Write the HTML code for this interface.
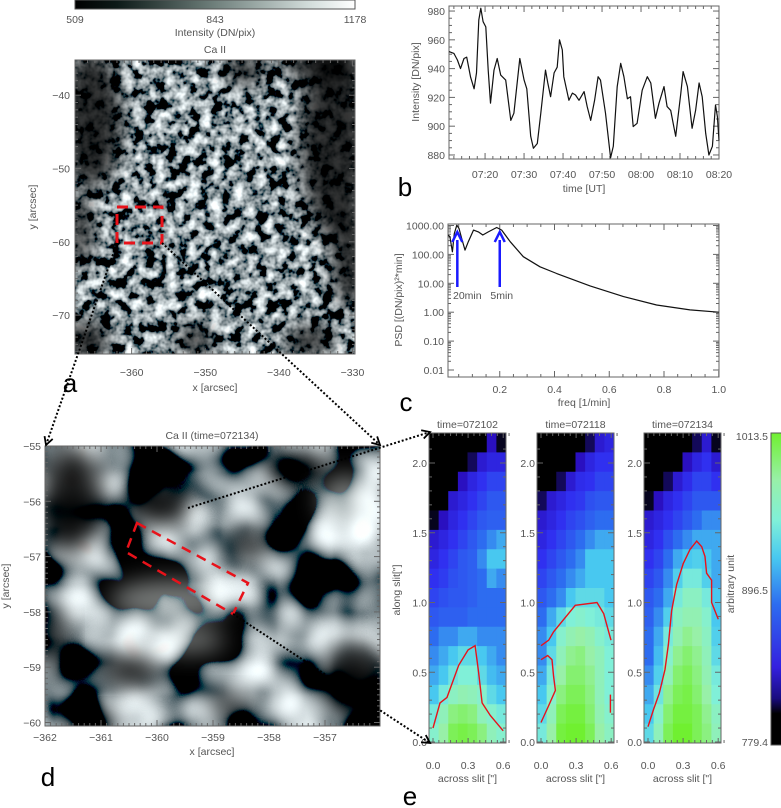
<!DOCTYPE html>
<html><head><meta charset="utf-8">
<style>
html,body{margin:0;padding:0;background:#fff;}
svg{display:block;font-family:"Liberation Sans","DejaVu Sans",sans-serif;}
.t{font-size:10.5px;fill:#555;}
.big{font-size:26px;fill:#000;}
</style></head>
<body>
<svg id="fig" width="781" height="808" viewBox="0 0 781 808" xmlns="http://www.w3.org/2000/svg">
<defs>
  <linearGradient id="grayBar" x1="0" x2="1" y1="0" y2="0">
    <stop offset="0" stop-color="#000"/>
    <stop offset="0.15" stop-color="#0d1a18"/>
    <stop offset="0.5" stop-color="#6f807c"/>
    <stop offset="0.85" stop-color="#d6e0de"/>
    <stop offset="1" stop-color="#fff"/>
  </linearGradient>
  <linearGradient id="ctBar" x1="0" x2="0" y1="1" y2="0">
    <stop offset="0" stop-color="#000"/>
    <stop offset="0.1" stop-color="#000"/>
    <stop offset="0.15" stop-color="#1a0c80"/>
    <stop offset="0.25" stop-color="#3420e0"/>
    <stop offset="0.45" stop-color="#2d6cf0"/>
    <stop offset="0.6" stop-color="#48c8f0"/>
    <stop offset="0.72" stop-color="#80f0d8"/>
    <stop offset="0.85" stop-color="#98f0a8"/>
    <stop offset="1" stop-color="#70f030"/>
  </linearGradient>
  <filter id="texA" x="0" y="0" width="100%" height="100%">
    <feTurbulence type="fractalNoise" baseFrequency="0.09" numOctaves="3" seed="4"/>
    <feColorMatrix type="matrix" values="2.6 0 0 0 -1.05  2.7 0 0 0 -1.05  2.7 0 0 0 -1.03  0 0 0 0 1"/>
  </filter>
  <filter id="texD" x="0" y="0" width="100%" height="100%">
    <feTurbulence type="fractalNoise" baseFrequency="0.018" numOctaves="2" seed="11"/>
    <feColorMatrix type="matrix" values="2.8 0 0 0 -1.2  2.9 0 0 0 -1.2  2.9 0 0 0 -1.18  0 0 0 0 1"/>
  </filter>
  <filter id="blur8" x="-100%" y="-100%" width="300%" height="300%"><feGaussianBlur stdDeviation="10"/></filter>
  <filter id="blur14" x="-100%" y="-100%" width="300%" height="300%"><feGaussianBlur stdDeviation="12"/></filter>
  <clipPath id="clipA"><rect x="75" y="60" width="280" height="294"/></clipPath>
  <clipPath id="clipD"><rect x="45" y="446" width="335" height="280"/></clipPath>
</defs>
</svg>
<script>
// ---------------- DATA ----------------
const tsTime = [10.75,12.0,12.9,13.7,14.6,15.3,16.3,17.2,17.8,18.4,18.9,19.5,20.2,20.8,21.4,22.3,23.1,24.0,25.3,26.6,27.4,28.9,30.0,30.7,31.7,32.4,33.4,34.3,35.5,36.1,36.8,37.7,38.5,39.1,39.8,40.2,41.5,42.4,43.2,44.1,45.4,46.2,47.1,48.1,49.0,49.6,50.9,52.2,52.9,53.9,54.8,55.6,56.5,57.3,58.0,59.0,60.3,61.6,62.5,63.7,64.6,65.9,66.7,67.6,68.4,68.9,70.2,70.8,71.9,73.1,74.0,74.9,75.7,76.6,77.4,78.3,79.1,79.6,80.0];
const tsVal = [951.8,950.6,946,940,947,948,934,926,937,973.8,982,972.6,969,939,916,939,947,935.5,932,904,909,947,932,926,893,884.6,888,909,939,930,920.5,937,941,960,953,934.4,918,923,921.7,918,924,913.6,904,918,934.4,932,909,878,886,927.5,943.6,934.4,919,920.5,899.7,902,925,934.4,930,905.5,916,927.5,913.6,911,899.7,893,922.8,937.9,927.5,898.5,911,930,920.5,895,880,886,914.7,906.6,890];
const tsTickLabels = ["07:20","07:30","07:40","07:50","08:00","08:10","08:20"];
const tsTickTimes = [20,30,40,50,60,70,80];
const tsYTicks = [880,900,920,940,960,980];
const psdFreq = [0.012,0.018,0.027,0.034,0.043,0.051,0.061,0.073,0.085,0.104,0.122,0.138,0.158,0.189,0.207,0.238,0.286,0.347,0.408,0.530,0.652,0.773,0.895,1.0];
const psdLog = [2.67,2.61,2.09,2.72,3.01,2.90,2.55,2.15,2.44,2.84,2.78,2.67,2.78,2.93,2.84,2.44,1.92,1.57,1.34,0.91,0.54,0.25,0.08,0.0];
const psdYLabels = ["1000.00","100.00","10.00","1.00","0.10","0.01"];
const psdYLogs = [3,2,1,0,-1,-2];
const psdXTicks = [0.2,0.4,0.6,0.8,1.0];
const arrowFreq = [0.045,0.2];
const arrowLabels = ["20min","5min"];
const mapE1 = [
[0,0,0,0,0,0,.15,.05],[0,0,0,0,.1,.2,.25,.25],[0,0,0,.15,.25,.3,.35,.35],[0,0,.2,.25,.3,.35,.4,.4],
[.05,.15,.25,.3,.35,.4,.42,.42],[.2,.25,.3,.35,.4,.45,.5,.55],[.25,.3,.35,.4,.42,.5,.6,.6],[.3,.33,.38,.4,.42,.45,.55,.5],
[.35,.38,.4,.4,.42,.45,.45,.45],[.4,.42,.42,.42,.45,.45,.45,.45],[.45,.5,.5,.55,.55,.5,.5,.5],[.5,.55,.6,.65,.65,.6,.55,.5],
[.55,.6,.68,.72,.72,.65,.58,.55],[.6,.7,.78,.82,.8,.75,.65,.6],[.7,.8,.9,.92,.9,.8,.75,.7],[.75,.85,.95,.97,.95,.9,.8,.75]];
const mapE2 = [
[0,0,0,0,0,.1,.2,.25],[0,0,0,0,.15,.25,.3,.3],[0,0,.1,.2,.28,.3,.35,.35],[.1,.2,.25,.3,.32,.38,.4,.4],
[.2,.25,.3,.35,.38,.42,.45,.45],[.25,.3,.35,.4,.45,.5,.55,.55],[.3,.35,.4,.45,.5,.6,.6,.6],[.35,.4,.45,.5,.55,.6,.6,.6],
[.4,.45,.5,.6,.65,.65,.65,.6],[.45,.55,.65,.72,.75,.72,.7,.65],[.5,.6,.75,.82,.85,.82,.75,.7],[.5,.65,.8,.88,.9,.85,.8,.72],
[.55,.7,.85,.92,.92,.88,.8,.72],[.6,.75,.9,.95,.95,.9,.8,.72],[.65,.8,.95,.98,.98,.92,.82,.75],[.7,.85,.98,1,1,.95,.85,.78]];
const mapE3 = [
[0,0,0,0,0,.1,.2,.05],[0,0,0,0,.15,.25,.3,.2],[0,0,.1,.2,.28,.35,.35,.3],[.05,.15,.25,.3,.35,.4,.4,.4],
[.2,.25,.3,.35,.4,.45,.5,.5],[.25,.3,.38,.45,.5,.55,.55,.55],[.3,.35,.45,.55,.6,.62,.6,.55],[.35,.4,.5,.62,.7,.7,.62,.55],
[.4,.45,.55,.7,.78,.78,.7,.6],[.42,.5,.62,.78,.82,.82,.75,.6],[.45,.55,.7,.82,.88,.85,.78,.62],[.45,.58,.75,.88,.92,.88,.8,.65],
[.5,.62,.8,.92,.95,.9,.82,.7],[.55,.68,.88,.95,.97,.92,.85,.72],[.6,.75,.92,.98,.98,.95,.88,.78],[.65,.8,.95,1,1,.95,.9,.8]];
const e1CX = [0,.06,.12,.22,.30,.36,.39,.42,.49,.60];
const e1CY = [.10,.28,.32,.55,.66,.69,.50,.28,.19,.08];
const e2aCX = [0,.066,.108,.293,.479,.536,.598];
const e2aCY = [.69,.73,.79,.98,1.0,.92,.73];
const e2bCX = [0,.057,.094,.108,.123,.06,0];
const e2bCY = [.59,.62,.59,.47,.37,.25,.14];
const e2cCX = [.593,.593];
const e2cCY = [.34,.21];
const e3CX = [0,.046,.097,.145,.174,.202,.245,.302,.359,.416,.459,.487,.501,.544,.544,.601];
const e3CY = [.11,.23,.35,.52,.70,.94,1.13,1.28,1.38,1.44,1.40,1.33,1.21,1.16,1.00,.88];
const eTitles = ["time=072102","time=072118","time=072134"];
const eYTicks = [0.0,0.5,1.0,1.5,2.0];
const eXTicks = [0.0,0.3,0.6];

// ---------------- HELPERS ----------------
const NS = "http://www.w3.org/2000/svg";
const svg = document.getElementById('fig');
function mk(tag, attrs, parent){
  const el = document.createElementNS(NS, tag);
  for (const k in attrs) el.setAttribute(k, attrs[k]);
  (parent||svg).appendChild(el);
  return el;
}
function txt(x,y,s,cls,anchor,parent,extra){
  const el = mk('text', Object.assign({x:x,y:y,'class':cls||'t','text-anchor':anchor||'middle'}, extra||{}), parent);
  el.textContent = s;
  return el;
}
function group(){ return mk('g',{}); }
function axisBox(x1,y1,x2,y2,parent){
  return mk('rect',{x:x1,y:y1,width:x2-x1,height:y2-y1,fill:'none',stroke:'#666','stroke-width':1},parent);
}
function tickX(g,x,y1,y2,len){
  mk('line',{x1:x,y1:y2,x2:x,y2:y2-len,stroke:'#666','stroke-width':1},g);
  mk('line',{x1:x,y1:y1,x2:x,y2:y1+len,stroke:'#666','stroke-width':1},g);
}
function tickY(g,y,x1,x2,len){
  mk('line',{x1:x1,y1:y,x2:x1+len,y2:y,stroke:'#666','stroke-width':1},g);
  mk('line',{x1:x2,y1:y,x2:x2-len,y2:y,stroke:'#666','stroke-width':1},g);
}
function cmap(v){
  const st=[[0,[0,0,0]],[0.08,[10,6,48]],[0.15,[42,16,192]],[0.3,[48,48,240]],[0.45,[45,108,240]],[0.6,[72,200,240]],[0.72,[128,240,216]],[0.85,[152,240,168]],[1,[112,240,48]]];
  v=Math.max(0,Math.min(1,v));
  for(let i=1;i<st.length;i++){ if(v<=st[i][0]){ const a=st[i-1],b=st[i],f=(v-a[0])/(b[0]-a[0]);
    return 'rgb('+[0,1,2].map(k=>Math.round(a[1][k]+f*(b[1][k]-a[1][k]))).join(',')+')'; } }
  return 'rgb(112,240,48)';
}

// ---------------- TOP COLORBAR ----------------
const cbTop = group();


mk('rect',{x:75,y:0,width:280,height:9,fill:'url(#grayBar)',stroke:'#555','stroke-width':1},cbTop);
const cbL = ["509","843","1178"], cbX=[75,215,355];
for(let i=0;i<3;i++){ txt(cbX[i],23,cbL[i],'t','middle',cbTop); }
const cbTitle = txt(215,36,"Intensity (DN/pix)",'t','middle',cbTop);



// ---------------- PANEL A ----------------
const pa = group();


const aImg = mk('g',{'clip-path':'url(#clipA)'},pa);
mk('rect',{x:75,y:60,width:280,height:294,filter:'url(#texA)'},aImg);
const darkA = [[92,120,30,70],[80,230,12,40],[335,140,35,100],[350,260,18,50],[320,65,40,15],[85,340,25,20],[245,70,20,15],[310,340,25,15],[195,340,18,15]];
for(const d of darkA){ mk('ellipse',{cx:d[0],cy:d[1],rx:d[2],ry:d[3],fill:'#000',opacity:0.8,filter:'url(#blur8)'},aImg); }
axisBox(75,60,355,354,pa);
const aTicks = mk('g',{},pa);
const aXv=[-360,-350,-340,-330], aYv=[-40,-50,-60,-70];
const AX = v=>75+(v+367.7)*7.36, AY = v=>60+(-35.2-v)*7.33;
for(let v=-367;v<=-330;v+=1){ tickX(aTicks,AX(v),60,354,(v%10===0)?6:3); }
for(let v=-36;v>=-75;v-=1){ tickY(aTicks,AY(v),75,355,(v%10===0)?6:3); }
for(const v of aXv) txt(AX(v),376,'\u2212'+Math.abs(v),'t','middle',pa);
for(const v of aYv) txt(70,AY(v)+4,'\u2212'+Math.abs(v),'t','end',pa);
const aT = txt(215,53,"Ca II",'t','middle',pa); aT.setAttribute('font-size','12');


txt(215,391,"x [arcsec]",'t','middle',pa);
txt(36,207,"y [arcsec]",'t','middle',pa,{transform:'rotate(-90 36 207)'});
mk('rect',{x:117,y:207,width:45,height:36,fill:'none',stroke:'#e8121a','stroke-width':3,'stroke-dasharray':'11 7'},pa);
const la = txt(70,392,"a",'big','middle');



// ---------------- PANEL B ----------------
const pb = group();


const BX0=449,BX1=719,BY0=6,BY1=159;
const BX = t=>BX0+(t-10.75)*(BX1-BX0)/69.25, BY = v=>BY1-(v-877.2)*1.4393;
axisBox(BX0,BY0,BX1,BY1,pb);
const bTicks = mk('g',{},pb);
for(let t=12;t<=80;t+=2){ tickX(bTicks,BX(t),BY0,BY1,(t%10===0)?6:3); }
for(let v=880;v<=980;v+=5){ tickY(bTicks,BY(v),BX0,BX1,(v%20===0)?6:3); }
for(let i=0;i<tsTickTimes.length;i++) txt(BX(tsTickTimes[i]),178,tsTickLabels[i],'t','middle',pb);
for(const v of tsYTicks) txt(BX0-4,BY(v)+4,String(v),'t','end',pb);
txt(584,192,"time [UT]",'t','middle',pb);
txt(419,82,"Intensity [DN/pix]",'t','middle',pb,{transform:'rotate(-90 419 82)'});
let dB='';
for(let i=0;i<tsTime.length;i++){ dB+=(i?'L':'M')+BX(tsTime[i]).toFixed(1)+' '+BY(tsVal[i]).toFixed(1); }
const lineB = mk('path',{d:dB,fill:'none',stroke:'#111','stroke-width':1.2,'stroke-linejoin':'round'},pb);


const lb = txt(405,196,"b",'big','middle');



// ---------------- PANEL C ----------------
const pc = group();


const CX0=448,CX1=719,CY0=224,CY1=377;
const CX = f=>445+f*273.75, CY = l=>370-(l+2)*28.9;
axisBox(CX0,CY0,CX1,CY1,pc);
const cTicks = mk('g',{},pc);
for(let f=0.05;f<=1.001;f+=0.05){ tickX(cTicks,CX(f),CY0,CY1,(Math.abs(f*5-Math.round(f*5))<0.01)?6:3); }
for(const l of psdYLogs){ tickY(cTicks,CY(l),CX0,CX1,6);
  for(let m=2;m<10;m++){ const lm=l+Math.log10(m); if(lm<3.05) tickY(cTicks,CY(lm),CX0,CX1,3);} }
for(const f of psdXTicks) txt(CX(f),393,f.toFixed(1),'t','middle',pc);
for(let i=0;i<psdYLabels.length;i++) txt(CX0-4,CY(psdYLogs[i])+4,psdYLabels[i],'t','end',pc);
txt(584,406,"freq [1/min]",'t','middle',pc);
txt(402,300,"PSD [(DN/pix)\u00b2*min]",'t','middle',pc,{transform:'rotate(-90 402 300)'});
let dC='';
for(let i=0;i<psdFreq.length;i++){ dC+=(i?'L':'M')+CX(psdFreq[i]).toFixed(1)+' '+Math.max(CY0,CY(psdLog[i])).toFixed(1); }
const lineC = mk('path',{d:dC,fill:'none',stroke:'#111','stroke-width':1.2,'stroke-linejoin':'round'},pc);


for(let i=0;i<arrowFreq.length;i++){
  const x=CX(arrowFreq[i]);
  const ar = mk('g',{},pc);
  
  
  mk('line',{x1:x,y1:287,x2:x,y2:240,stroke:'#1a1aff','stroke-width':2.5},ar);
  mk('path',{d:`M${x-5} ${242} L${x} ${232} L${x+5} ${242}`,fill:'none',stroke:'#1a1aff','stroke-width':2.5},ar);
  const lt = txt(x+(i?2:10),299,arrowLabels[i],'t','middle',ar); lt.setAttribute('fill','#1a1aff');
}
const lc = txt(406,411,"c",'big','middle');



// ---------------- PANEL D ----------------
const pd = group();


const dImg = mk('g',{'clip-path':'url(#clipD)'},pd);
mk('rect',{x:45,y:446,width:335,height:280,filter:'url(#texD)'},dImg);
const darkD=[[72,500,30,55],[160,505,30,22],[55,640,10,35],[130,670,28,16],[355,680,30,35],[250,545,18,13],[300,470,35,15],[90,720,28,8],[230,705,20,10]];
for(const d of darkD){ mk('ellipse',{cx:d[0],cy:d[1],rx:d[2],ry:d[3],fill:'#000',opacity:0.9,filter:'url(#blur14)'},dImg); }
const brightD=[[170,600,60,20],[345,500,25,25],[190,640,35,12]];
for(const d of brightD){ mk('ellipse',{cx:d[0],cy:d[1],rx:d[2],ry:d[3],fill:'#eef4f2',opacity:0.5,filter:'url(#blur14)'},dImg); }
axisBox(45,446,380,726,pd);
const DX=v=>45+(v+362)*56, DY=v=>446+(-55-v)*55.3;
const dTicks=mk('g',{},pd);
for(let v=-362;v<=-356.1;v+=0.1){ const maj=Math.abs(v-Math.round(v))<0.01; tickX(dTicks,DX(v),446,726,maj?6:3); }
for(let v=-55;v>=-60.01;v-=0.1){ const maj=Math.abs(v-Math.round(v))<0.01; tickY(dTicks,DY(v),45,380,maj?6:3); }
for(let v=-362;v<=-357;v++) txt(DX(v),741,'\u2212'+Math.abs(v),'t','middle',pd);
for(let v=-55;v>=-60;v--) txt(41,DY(v)+4,'\u2212'+Math.abs(v),'t','end',pd);
const dT=txt(212,439,"Ca II (time=072134)",'t','middle',pd); dT.setAttribute('font-size','12');


txt(212,755,"x [arcsec]",'t','middle',pd);
txt(9,586,"y [arcsec]",'t','middle',pd,{transform:'rotate(-90 9 586)'});
const slit = mk('path',{d:'M137 523 L248 583 L233 614 L126 552 Z',fill:'none',stroke:'#e8121a','stroke-width':2.5,'stroke-dasharray':'10 7'},pd);


const ld = txt(48,786,"d",'big','middle');



// ---------------- PANEL E ----------------
const maps=[mapE1,mapE2,mapE3], x0s=[433,541,648];
const contours=[[[e1CX,e1CY]],[[e2aCX,e2aCY],[e2bCX,e2bCY],[e2cCX,e2cCY]],[[e3CX,e3CY]]];
const EY=v=>742-v*139.5;
for(let p=0;p<3;p++){
  const g=group();
  
  
  const x0=x0s[p], L=x0-4, R=x0+73, T=433, B=743;
  const EX=v=>x0+v*117;
  const m=maps[p], nr=m.length, nc=m[0].length, cw=(R-L)/nc, rh=(B-T)/nr;
  for(let r=0;r<nr;r++) for(let c=0;c<nc;c++){
    const cell=mk('rect',{x:(L+c*cw).toFixed(2),y:(T+r*rh).toFixed(2),width:(cw+0.4).toFixed(2),height:(rh+0.4).toFixed(2),fill:cmap(m[r][c])},g);
    
    
  }
  axisBox(L,T,R,B,g);
  const tg=mk('g',{},g);
  for(let v=0;v<=0.651;v+=0.05){ tickX(tg,EX(v),T,B,(Math.abs(v*10/3-Math.round(v*10/3))<0.01)?5:3); }
  for(let v=0;v<=2.2;v+=0.1){ tickY(tg,EY(v),L,R,(Math.abs(v*2-Math.round(v*2))<0.01)?6:3); }
  for(const v of eXTicks) txt(EX(v),769,v.toFixed(1),'t','middle',g);
  for(const v of eYTicks) txt(L-2,EY(v)+4,v.toFixed(1),'t','end',g);
  txt((L+R)/2,782,'across slit ["]','t','middle',g);
  const tt=txt((L+R)/2,428,eTitles[p],'t','middle',g); tt.setAttribute('font-size','11');
  for(const cc of contours[p]){
    let d=''; for(let i=0;i<cc[0].length;i++) d+=(i?'L':'M')+EX(cc[0][i]).toFixed(1)+' '+EY(cc[1][i]).toFixed(1);
    const cl=mk('path',{d:d,fill:'none',stroke:'#e8121a','stroke-width':1.4},g);
    
    
  }
}
txt(400,590,'along slit["]','t','middle',null,{transform:'rotate(-90 400 590)'});
const cbE=group();


mk('rect',{x:771,y:433,width:11,height:312,fill:'url(#ctBar)',stroke:'#555','stroke-width':1},cbE);
txt(768,440,"1013.5",'t','end',cbE);
txt(768,594,"896.5",'t','end',cbE);
txt(768,746,"779.4",'t','end',cbE);
txt(734,584,"arbitrary unit",'t','middle',cbE,{transform:'rotate(-90 734 584)'});
const le = txt(410,805,"e",'big','middle');



// ---------------- CONNECTOR DOTTED LINES ----------------
const conn=group();


const lines=[[117,243,46,445],[162,243,380,445],[188,508,430,432],[233,614,430,743]];
for(const l of lines){
  mk('line',{x1:l[0],y1:l[1],x2:l[2],y2:l[3],stroke:'#000','stroke-width':2,'stroke-dasharray':'2 2'},conn);
  const ang=Math.atan2(l[3]-l[1],l[2]-l[0]), s=9;
  const a1=[l[2]-s*Math.cos(ang-0.5),l[3]-s*Math.sin(ang-0.5)], a2=[l[2]-s*Math.cos(ang+0.5),l[3]-s*Math.sin(ang+0.5)];
  mk('path',{d:`M${a1[0]} ${a1[1]} L${l[2]} ${l[3]} L${a2[0]} ${a2[1]}`,fill:'none',stroke:'#000','stroke-width':1.8},conn);
}
</script>
</body></html>
